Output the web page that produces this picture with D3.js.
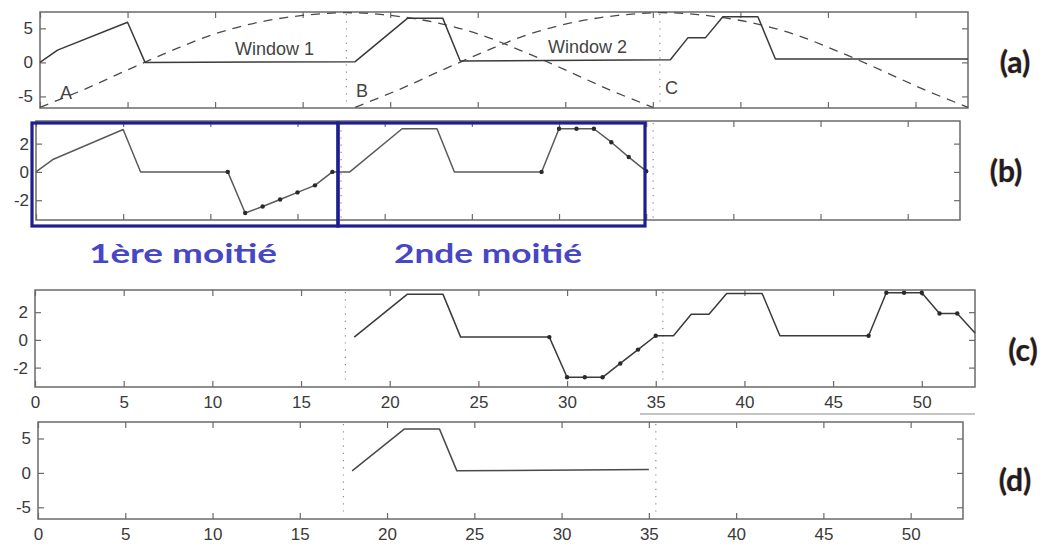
<!DOCTYPE html>
<html>
<head>
<meta charset="utf-8">
<script src="https://cdn.jsdelivr.net/npm/d3@7"></script>
<style>
  html, body { margin: 0; padding: 0; background: #fff; }
  svg { display: block; }
  .tick text { font-family: "Liberation Sans", Arial, sans-serif; fill: #3a3a3a; }
</style>
</head>
<body>
<svg id="fig" width="1047" height="549"></svg>
<script>
// ---- data ----
const xTickValues = [0, 5, 10, 15, 20, 25, 30, 35, 40, 45, 50];
const bigYTicks = [-5, 0, 5];
const smallYTicks = [-2, 0, 2];
const windowEdges = [17.5, 35.4];

// (a) original signal
const sigAx = [0, 1, 5, 6, 18, 21, 23, 24, 36, 37, 38, 39, 41, 42, 53];
const sigAy = [0, 1.8, 5.9, 0, 0.1, 6.5, 6.5, 0.2, 0.4, 3.6, 3.6, 6.7, 6.7, 0.5, 0.5];

// (a) analysis windows (dashed)
const win1x = [0, 2.5, 5, 7.5, 10, 12.5, 15, 17.5, 20, 22.5, 25, 27.5, 30, 32.5, 35];
const win1y = [-6.6, -4.0, -1.1, 1.7, 4.2, 5.9, 6.9, 7.3, 6.9, 5.9, 4.2, 1.7, -1.1, -4.0, -6.6];
const win2x = [18, 20.5, 23, 25.5, 28, 30.5, 33, 35.5, 38, 40.5, 43, 45.5, 48, 50.5, 53];
const win2y = [-6.6, -4.0, -1.1, 1.7, 4.2, 5.9, 6.9, 7.3, 6.9, 5.9, 4.2, 1.7, -1.1, -4.0, -6.6];

// (b) frame content, two halves
const sigBx = [0, 1, 5, 6, 11, 12, 13, 14, 15, 16, 17, 18, 21, 23, 24, 29, 30, 31, 32, 33, 34, 35];
const sigBy = [0, 0.9, 3.0, 0, 0, -2.9, -2.45, -1.95, -1.45, -0.95, 0, 0, 3.05, 3.05, 0, 0, 3.05, 3.05, 3.05, 2.1, 1.05, 0.05];
const dotsB = [11, 12, 13, 14, 15, 16, 17, 29, 30, 31, 32, 33, 34, 35];

// (c) overlap-added output
const sigCx = [18, 21, 23, 24, 29, 30, 31, 32, 33, 34, 35, 36, 37, 38, 39, 41, 42, 47, 48, 49, 50, 51, 52, 53];
const sigCy = [0.2, 3.3, 3.3, 0.2, 0.2, -2.7, -2.7, -2.7, -1.7, -0.7, 0.3, 0.3, 1.85, 1.85, 3.35, 3.35, 0.3, 0.3, 3.4, 3.4, 3.4, 1.9, 1.9, 0.5];
const dotsC = [29, 30, 31, 32, 33, 34, 35, 47, 48, 49, 50, 51, 52];

// (d) reconstructed segment
const sigDx = [18, 21, 23, 24, 35];
const sigDy = [0.3, 6.4, 6.4, 0.3, 0.5];

// ---- layout ----
const svg = d3.select("#fig");
const panels = [
  { id: "a", left: 40, right: 968, top: 12, bottom: 108, yDom: [-6.7, 7.4], yTicks: bigYTicks, xLabels: false },
  { id: "b", left: 36, right: 960, top: 121, bottom: 220, yDom: [-3.4, 3.6], yTicks: smallYTicks, xLabels: false },
  { id: "c", left: 35, right: 975, top: 290, bottom: 387, yDom: [-3.4, 3.6], yTicks: smallYTicks, xLabels: true },
  { id: "d", left: 38, right: 963, top: 422, bottom: 519, yDom: [-6.7, 7.4], yTicks: bigYTicks, xLabels: true }
];
const fmt = v => String(v);
const frameColor = "#6a6a6a";
const lineColor = "#3a3a3a";

const scales = {};
panels.forEach(p => {
  const x = d3.scaleLinear().domain([0, 53]).range([p.left, p.right]);
  const y = d3.scaleLinear().domain(p.yDom).range([p.bottom, p.top]);
  scales[p.id] = { x, y };
  const g = svg.append("g").attr("class", "panel-" + p.id);

  // axes with inward ticks on all four sides
  const bottomAx = d3.axisBottom(x).tickValues(xTickValues).tickSize(-6).tickPadding(9)
    .tickFormat(p.xLabels ? fmt : () => "");
  const topAx = d3.axisTop(x).tickValues(xTickValues).tickSize(-6).tickFormat(() => "");
  const leftAx = d3.axisLeft(y).tickValues(p.yTicks).tickSize(-6).tickPadding(7).tickFormat(fmt);
  const rightAx = d3.axisRight(y).tickValues(p.yTicks).tickSize(-6).tickFormat(() => "");

  const axes = [
    [bottomAx, `translate(0,${p.bottom})`],
    [topAx, `translate(0,${p.top})`],
    [leftAx, `translate(${p.left},0)`],
    [rightAx, `translate(${p.right},0)`]
  ];
  axes.forEach(([ax, tr]) => {
    const a = g.append("g").attr("transform", tr).call(ax);
    a.select(".domain").remove();
    a.selectAll(".tick line").attr("stroke", frameColor).attr("stroke-width", 1.2);
    a.selectAll(".tick text").style("font-size", "17px");
  });

  // dotted window boundaries
  windowEdges.forEach(e => {
    g.append("line")
      .attr("x1", x(e)).attr("x2", x(e))
      .attr("y1", p.top + 2).attr("y2", p.bottom - 2)
      .attr("stroke", "#8a8a8a").attr("stroke-width", 1.2)
      .attr("stroke-dasharray", "1.2,6");
  });

  // frame
  g.append("rect")
    .attr("x", p.left).attr("y", p.top)
    .attr("width", p.right - p.left).attr("height", p.bottom - p.top)
    .attr("fill", "none").attr("stroke", frameColor).attr("stroke-width", 1.5);
});

function drawLine(id, xs, ys, opts = {}) {
  const { x, y } = scales[id];
  const pts = xs.map((v, i) => [v, ys[i]]);
  const gen = d3.line().x(d => x(d[0])).y(d => y(d[1]));
  if (opts.curve) gen.curve(opts.curve);
  svg.append("path")
    .datum(pts)
    .attr("d", gen)
    .attr("fill", "none")
    .attr("stroke", opts.color || lineColor)
    .attr("stroke-width", opts.width || 1.5)
    .attr("stroke-dasharray", opts.dash || null)
    .attr("stroke-linejoin", "round");
}
function drawDots(id, xs, ys, which) {
  const { x, y } = scales[id];
  const pts = which.map(v => [v, ys[xs.indexOf(v)]]);
  svg.append("g").selectAll("circle").data(pts).join("circle")
    .attr("cx", d => x(d[0])).attr("cy", d => y(d[1]))
    .attr("r", 2.2).attr("fill", "#2a2a2a");
}

// (a)
drawLine("a", win1x, win1y, { curve: d3.curveCatmullRom, dash: "9,7", width: 1.3, color: "#4a4a4a" });
drawLine("a", win2x, win2y, { curve: d3.curveCatmullRom, dash: "9,7", width: 1.3, color: "#4a4a4a" });
drawLine("a", sigAx, sigAy);

const annot = [
  { t: "A", x: 60, y: 99 }, { t: "B", x: 356, y: 97 }, { t: "C", x: 665, y: 94 },
  { t: "Window 1", x: 235, y: 55 }, { t: "Window 2", x: 548, y: 53 }
];
svg.append("g").selectAll("text").data(annot).join("text")
  .attr("x", d => d.x).attr("y", d => d.y).text(d => d.t)
  .attr("font-family", "Liberation Sans, Arial, sans-serif")
  .attr("font-size", 18).attr("fill", "#444");

// (b)
drawLine("b", sigBx, sigBy, { color: "#5a5a5a" });
drawDots("b", sigBx, sigBy, dotsB);

// blue half-frame boxes
const halves = [
  { label: "1ère moitié", x0: 32, x1: 338, cx: 183 },
  { label: "2nde moitié", x0: 338, x1: 645, cx: 488 }
];
svg.append("g").selectAll("rect").data(halves).join("rect")
  .attr("x", d => d.x0).attr("y", 123)
  .attr("width", d => d.x1 - d.x0).attr("height", 103)
  .attr("fill", "none").attr("stroke", "#1e1e8e").attr("stroke-width", 3.2);
svg.append("g").selectAll("text").data(halves).join("text")
  .attr("x", d => d.cx - 94).attr("y", 263).text(d => d.label)
  .attr("textLength", 188).attr("lengthAdjust", "spacingAndGlyphs")
  .attr("font-family", "Lato, 'Open Sans', sans-serif").attr("font-weight", 700)
  .attr("font-size", 27).attr("fill", "#4747c6");

// (c)
drawLine("c", sigCx, sigCy);
drawDots("c", sigCx, sigCy, dotsC);

// (d)
drawLine("d", sigDx, sigDy, { color: "#4a4a4a" });

// separator under (c) tick labels
svg.append("line").attr("x1", 640).attr("x2", 975).attr("y1", 414).attr("y2", 414)
  .attr("stroke", "#8a8a8a").attr("stroke-width", 1.2);

// panel letters
const letters = [
  { t: "(a)", x: 1015, y: 62 }, { t: "(b)", x: 1006, y: 171 },
  { t: "(c)", x: 1023, y: 350 }, { t: "(d)", x: 1015, y: 480 }
];
svg.append("g").selectAll("text").data(letters).join("text")
  .attr("x", d => d.x).attr("y", d => d.y).attr("dy", "0.35em")
  .attr("text-anchor", "middle").text(d => d.t)
  .attr("font-family", "Lato, 'Open Sans', sans-serif").attr("font-weight", 700)
  .attr("font-size", 30).attr("fill", "#1c1c2a")
  .attr("stroke", "#c9882e").attr("stroke-width", 0.6).attr("paint-order", "stroke");
</script>
</body>
</html>
